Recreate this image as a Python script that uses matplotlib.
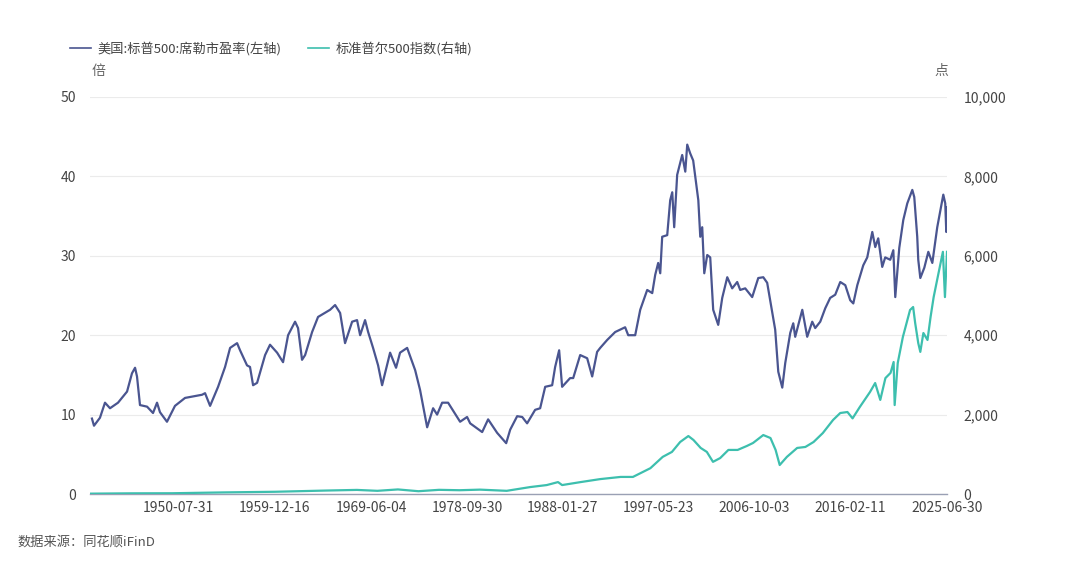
import matplotlib
matplotlib.use('Agg')
import matplotlib.pyplot as plt
from matplotlib.lines import Line2D
from matplotlib.ticker import FuncFormatter

plt.rcParams['font.family'] = ['Noto Sans CJK SC', 'DejaVu Sans']

# Shiller PE (left axis)
pe_years = [1942.19, 1942.39, 1942.97, 1943.46, 1943.95, 1944.73, 1945.61, 1946.09, 1946.39, 1946.58,
            1946.87, 1947.56, 1948.14, 1948.53, 1948.82, 1949.50, 1950.28, 1951.26, 1952.92, 1953.21,
            1953.70, 1954.48, 1955.16, 1955.65, 1956.33, 1956.62, 1957.30, 1957.59, 1957.89, 1958.28,
            1959.06, 1959.54, 1960.23, 1960.81, 1961.30, 1961.98, 1962.27, 1962.66, 1962.96, 1963.64,
            1964.22, 1965.39, 1965.88, 1966.37, 1966.85, 1967.54, 1968.02, 1968.32, 1968.80, 1969.10,
            1969.58, 1970.07, 1970.46, 1971.24, 1971.82, 1972.21, 1972.90, 1973.68, 1974.16, 1974.85,
            1975.43, 1975.82, 1976.31, 1976.89, 1978.06, 1978.74, 1979.04, 1980.21, 1980.79, 1981.67,
            1982.55, 1982.94, 1983.62, 1984.11, 1984.59, 1985.37, 1985.86, 1986.35, 1987.03, 1987.32,
            1987.71, 1988.00, 1988.78, 1989.08, 1989.76, 1990.44, 1990.93, 1991.41, 1991.71, 1992.39,
            1993.17, 1994.14, 1994.44, 1995.12, 1995.61, 1996.29, 1996.78, 1997.07, 1997.36, 1997.56,
            1997.75, 1998.24, 1998.53, 1998.73, 1998.92, 1999.21, 1999.70, 2000.00, 2000.19, 2000.48,
            2000.77, 2001.27, 2001.46, 2001.65, 2001.85, 2002.14, 2002.43, 2002.72, 2003.21, 2003.60,
            2004.09, 2004.57, 2005.06, 2005.35, 2005.84, 2006.52, 2007.11, 2007.60, 2007.98, 2008.47,
            2008.76, 2009.06, 2009.45, 2009.74, 2010.23, 2010.52, 2010.71, 2011.40, 2011.88, 2012.37,
            2012.66, 2013.15, 2013.64, 2014.12, 2014.61, 2015.10, 2015.59, 2016.07, 2016.37, 2016.76,
            2017.34, 2017.73, 2018.22, 2018.51, 2018.80, 2019.19, 2019.48, 2019.97, 2020.27, 2020.46,
            2020.85, 2021.24, 2021.63, 2022.12, 2022.31, 2022.60, 2022.70, 2022.90, 2023.29, 2023.68,
            2024.07, 2024.55, 2025.14, 2025.33, 2025.43, 2025.50]
pe_values = [9.5, 8.6, 9.6, 11.5, 10.8, 11.5, 12.9, 15.2, 15.9, 14.8,
             11.2, 11.0, 10.2, 11.5, 10.3, 9.1, 11.1, 12.1, 12.5, 12.7,
             11.1, 13.5, 16.0, 18.4, 19.0, 18.1, 16.2, 16.0, 13.7, 14.0,
             17.5, 18.8, 17.8, 16.6, 20.0, 21.7, 20.9, 16.9, 17.5, 20.4,
             22.3, 23.2, 23.8, 22.8, 19.0, 21.7, 21.9, 20.0, 21.9, 20.4,
             18.4, 16.2, 13.7, 17.8, 15.9, 17.8, 18.4, 15.6, 13.1, 8.4,
             10.8, 10.0, 11.5, 11.5, 9.1, 9.7, 8.9, 7.8, 9.4, 7.7,
             6.4, 8.1, 9.8, 9.7, 8.9, 10.6, 10.8, 13.5, 13.7, 16.0,
             18.1, 13.5, 14.6, 14.6, 17.5, 17.1, 14.8, 17.9, 18.4, 19.4,
             20.4, 21.0, 20.0, 20.0, 23.2, 25.7, 25.3, 27.6, 29.1, 27.8,
             32.4, 32.6, 37.0, 38.0, 33.6, 40.2, 42.7, 40.6, 44.0, 42.9,
             42.0, 37.0, 32.4, 33.6, 27.8, 30.1, 29.8, 23.2, 21.3, 24.7,
             27.3, 25.9, 26.7, 25.7, 25.9, 24.8, 27.2, 27.3, 26.6, 22.9,
             20.7, 15.4, 13.4, 16.5, 20.3, 21.5, 19.8, 23.2, 19.8, 21.7,
             20.9, 21.7, 23.4, 24.7, 25.1, 26.7, 26.3, 24.4, 24.0, 26.3,
             28.8, 29.8, 33.0, 31.1, 32.2, 28.6, 29.8, 29.5, 30.7, 24.8,
             31.0, 34.5, 36.6, 38.3, 37.4, 32.4, 29.5, 27.2, 28.5, 30.5,
             29.1, 33.6, 37.7, 36.6, 33.0, 36.1]

# S&P 500 index (right axis)
spx_years = [1942.0, 1946.0, 1950.0, 1955.0, 1960.0, 1965.0, 1968.0, 1970.0, 1972.0, 1974.0,
             1976.0, 1978.0, 1980.0, 1982.6, 1984.9, 1986.5, 1987.6, 1988.0, 1989.8, 1991.7,
             1993.7, 1994.9, 1996.6, 1997.8, 1998.7, 1999.5, 2000.3, 2000.8, 2001.5, 2002.1,
             2002.7, 2003.4, 2004.2, 2005.1, 2006.0, 2006.6, 2007.6, 2008.3, 2008.8, 2009.2,
             2009.9, 2010.9, 2011.7, 2012.5, 2013.4, 2014.4, 2015.1, 2015.8, 2016.3, 2017.0,
             2018.0, 2018.5, 2019.0, 2019.5, 2020.0, 2020.3, 2020.4, 2020.7, 2021.2, 2021.9,
             2022.2, 2022.4, 2022.7, 2022.9, 2023.2, 2023.6, 2023.9, 2024.2, 2024.6, 2025.1,
             2025.3, 2025.5]
spx_values = [9, 17, 19, 40, 56, 87, 103, 80, 115, 70,
              105, 95, 110, 80, 175, 225, 300, 225, 300, 375,
              430, 430, 650, 935, 1060, 1310, 1460, 1360, 1160, 1060,
              810, 905, 1110, 1110, 1210, 1285, 1485, 1410, 1110, 730,
              935, 1160, 1185, 1310, 1535, 1865, 2040, 2065, 1905, 2190,
              2570, 2795, 2370, 2920, 3050, 3325, 2240, 3300, 3955, 4635,
              4710, 4305, 3800, 3580, 4055, 3880, 4460, 4960, 5470, 6100,
              4960, 6100]

tick_labels = ['1950-07-31', '1959-12-16', '1969-06-04', '1978-09-30', '1988-01-27',
               '1997-05-23', '2006-10-03', '2016-02-11', '2025-06-30']
tick_years = [1950.58, 1959.96, 1969.42, 1978.75, 1988.07, 1997.39, 2006.75, 2016.11, 2025.50]

pe_color = '#4a5590'
spx_color = '#3dbfae'
text_color = '#444444'

fig = plt.figure(figsize=(10.65, 5.68), dpi=100)
ax = fig.add_axes([90 / 1065, 74 / 568, 857 / 1065, 397 / 568])
ax2 = ax.twinx()

ax.plot(pe_years, pe_values, color=pe_color, lw=1.6, zorder=3)
ax2.plot(spx_years, spx_values, color=spx_color, lw=1.6, zorder=2)

ax.set_xlim(1942.0, 2025.5)
ax.set_ylim(0, 50)
ax2.set_ylim(0, 10000)
ax.set_yticks([0, 10, 20, 30, 40, 50])
ax2.set_yticks([0, 2000, 4000, 6000, 8000, 10000])
ax2.yaxis.set_major_formatter(FuncFormatter(lambda v, p: f'{int(v):,}'))
ax.set_xticks(tick_years)
ax.set_xticklabels(tick_labels)

# gridlines from the left axis
ax.grid(axis='y', color='#ebebeb', lw=0.8)
ax.set_axisbelow(True)

for a in (ax, ax2):
    for side in ('top', 'left', 'right'):
        a.spines[side].set_visible(False)
    a.spines['bottom'].set_visible(False)
ax.spines['bottom'].set_visible(True)
ax.spines['bottom'].set_color('#9aa0b4')
ax.spines['bottom'].set_linewidth(1.0)

ax.tick_params(axis='both', length=0, labelsize=10, labelcolor=text_color)
ax.tick_params(axis='y', pad=10)
ax.tick_params(axis='x', pad=5)
ax2.tick_params(axis='y', length=0, labelsize=10, labelcolor=text_color, pad=12)

# unit labels
fig.text(98 / 1065, 1 - 71 / 568, '倍', fontsize=10, color='#666666', ha='center', va='center')
fig.text(941 / 1065, 1 - 71 / 568, '点', fontsize=10, color='#666666', ha='center', va='center')

# legend
handles = [Line2D([], [], color=pe_color, lw=1.2), Line2D([], [], color=spx_color, lw=1.2)]
labels = ['美国:标普500:席勒市盈率(左轴)', '标准普尔500指数(右轴)']
fig.legend(handles, labels, loc='center left', bbox_to_anchor=(70 / 1065, 1 - 49 / 568), ncol=2,
           frameon=False, fontsize=9.5, handlelength=1.6, handletextpad=0.5, columnspacing=2.0,
           borderpad=0, borderaxespad=0, labelcolor=text_color)

# source
fig.text(17 / 1065, 1 - 542 / 568, '数据来源：同花顺iFinD', fontsize=9.5, color='#555555',
         ha='left', va='center')

fig.savefig('out.png', dpi=100, facecolor='white')
